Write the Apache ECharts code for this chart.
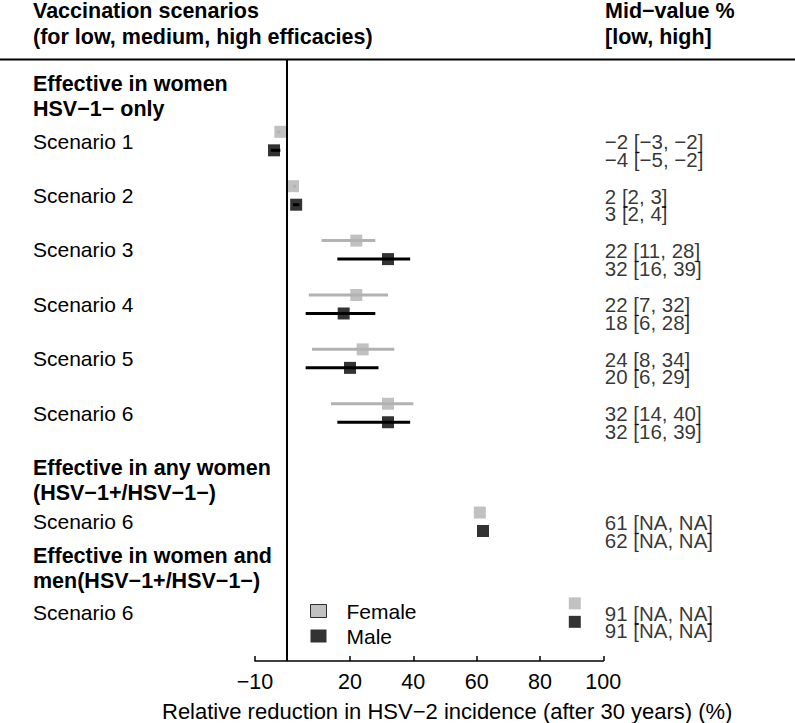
<!DOCTYPE html>
<html>
<head>
<meta charset="utf-8">
<script src="https://cdn.jsdelivr.net/npm/echarts@6/dist/echarts.min.js"></script>
<style>
  html, body { margin: 0; padding: 0; background: #fff; }
  #chart { width: 795px; height: 723px; }
</style>
</head>
<body>
<div id="chart"></div>
<script>
// ---------------- data ----------------
const scenarioLabels = ['Scenario 1', 'Scenario 2', 'Scenario 3', 'Scenario 4', 'Scenario 5', 'Scenario 6', 'Scenario 6', 'Scenario 6'];
const femaleMid  = [-2, 2, 22, 22, 24, 32, 61, 91];
const femaleLow  = [-3, 2, 11, 7, 8, 14, null, null];
const femaleHigh = [-2, 3, 28, 32, 34, 40, null, null];
const maleMid    = [-4, 3, 32, 18, 20, 32, 62, 91];
const maleLow    = [-5, 2, 16, 6, 6, 16, null, null];
const maleHigh   = [-2, 4, 39, 28, 29, 39, null, null];
const xTicks = [-10, 20, 40, 60, 80, 100];
const groupHeaders = [
  ['Effective in women', 'HSV\u22121\u2212 only'],
  ['Effective in any women', '(HSV\u22121+/HSV\u22121\u2212)'],
  ['Effective in women and', 'men(HSV\u22121+/HSV\u22121\u2212)']
];
const leftTitle = ['Vaccination scenarios', '(for low, medium, high efficacies)'];
const rightTitle = ['Mid\u2212value %', '[low, high]'];
const xTitle = 'Relative reduction in HSV\u22122 incidence (after 30 years) (%)';

// ---------------- layout ----------------
const rowPos = [0, 1, 2, 3, 4, 5, 7, 8.67];   // row slots on the hidden y axis
const sexOffset = 0.17;
const FONT = "'Liberation Sans', Arial, Helvetica, sans-serif";
const GRAY = '#b2b2b2';

const fmt = v => (v < 0 ? '\u2212' + Math.abs(v) : String(v));
const ciText = (m, lo, hi) => fmt(m) + ' [' + (lo == null ? 'NA' : fmt(lo)) + ', ' + (hi == null ? 'NA' : fmt(hi)) + ']';

function build(mid, lo, hi, off) {
  const pts = [], bars = [], txt = [];
  mid.forEach((m, i) => {
    const y = rowPos[i] + off;
    pts.push([m, y]);
    if (lo[i] != null && hi[i] != null) bars.push([lo[i], hi[i], y]);
    txt.push([100, y, ciText(m, lo[i], hi[i])]);
  });
  return { pts, bars, txt };
}
const F = build(femaleMid, femaleLow, femaleHigh, -sexOffset);
const M = build(maleMid, maleLow, maleHigh, sexOffset);

function whisker(color) {
  return function (params, api) {
    const a = api.coord([api.value(0), api.value(2)]);
    const b = api.coord([api.value(1), api.value(2)]);
    return {
      type: 'line',
      shape: { x1: a[0], y1: a[1], x2: b[0], y2: b[1] },
      style: { stroke: color, lineWidth: 3 }
    };
  };
}

const chart = echarts.init(document.getElementById('chart'), null, { renderer: 'svg' });

const BOLD = 'bold 21.5px ' + FONT;
const graphics = [];
leftTitle.forEach((t, i) => graphics.push({
  type: 'text', x: 33, y: 11 + i * 25.5,
  style: { text: t, font: BOLD, fill: '#000', textVerticalAlign: 'middle' }
}));
rightTitle.forEach((t, i) => graphics.push({
  type: 'text', x: 605, y: 11 + i * 25.5,
  style: { text: t, font: BOLD, fill: '#000', textVerticalAlign: 'middle' }
}));
const headerTops = [83.5, 467.5, 555.5];
groupHeaders.forEach((g, gi) => g.forEach((t, i) => graphics.push({
  type: 'text', x: 33, y: headerTops[gi] + i * 25.5,
  style: { text: t, font: BOLD, fill: '#000', textVerticalAlign: 'middle' }
})));
graphics.push({
  type: 'line', shape: { x1: 0, y1: 59.5, x2: 795, y2: 59.5 },
  style: { stroke: '#000', lineWidth: 2 }
});
graphics.push({
  type: 'text', x: 162, y: 711.5,
  style: { text: xTitle, font: '22px ' + FONT, fill: '#000', textAlign: 'left', textVerticalAlign: 'middle' }
});

chart.setOption({
  animation: false,
  backgroundColor: '#fff',
  textStyle: { fontFamily: FONT },
  grid: { left: 255, right: 191.7, top: 59.5, bottom: 62, containLabel: false, outerBoundsMode: 'none' },
  xAxis: {
    type: 'value', min: -10, max: 100,
    axisLine: { show: true, onZero: false, lineStyle: { color: '#000', width: 1.5 } },
    axisTick: { show: true, inside: true, length: 5, customValues: xTicks, lineStyle: { color: '#000', width: 1.5 } },
    axisLabel: { show: true, customValues: xTicks, formatter: v => fmt(v), color: '#000', fontSize: 21.5, fontFamily: FONT, margin: 10 },
    splitLine: { show: false }
  },
  yAxis: {
    type: 'value', inverse: true, min: -1.5, max: 9.56,
    axisLine: { show: false, onZero: false }, axisTick: { show: false }, splitLine: { show: false },
    axisLabel: {
      show: true, customValues: rowPos,
      formatter: v => { const i = rowPos.findIndex(p => Math.abs(p - v) < 1e-6); return i >= 0 ? scenarioLabels[i] : ''; },
      align: 'left', margin: 222, color: '#000', fontSize: 21, fontFamily: FONT
    }
  },
  legend: {
    orient: 'vertical', left: 305, top: 595.5,
    icon: 'rect', itemWidth: 16, itemHeight: 13, itemGap: 4,
    textStyle: { fontSize: 21, fontFamily: FONT, color: '#000', padding: [0, 0, 0, 15] },
    data: [
      { name: 'Female', itemStyle: { color: GRAY, borderColor: '#000', borderWidth: 1 } },
      { name: 'Male', itemStyle: { color: '#000' } }
    ]
  },
  graphic: graphics,
  series: [
    {
      type: 'line', data: [], silent: true,
      markLine: {
        silent: true, symbol: 'none', label: { show: false },
        lineStyle: { color: '#000', width: 2, type: 'solid' },
        data: [{ xAxis: 0 }]
      }
    },
    { type: 'custom', name: 'FemaleCI', data: F.bars, renderItem: whisker(GRAY), silent: true },
    { type: 'custom', name: 'MaleCI', data: M.bars, renderItem: whisker('#000'), silent: true },
    { type: 'scatter', name: 'Female', data: F.pts, symbol: 'rect', symbolSize: 12, itemStyle: { color: GRAY }, silent: true },
    { type: 'scatter', name: 'Male', data: M.pts, symbol: 'rect', symbolSize: 12, itemStyle: { color: '#000' }, silent: true },
    {
      type: 'scatter', name: 'FemaleText', data: F.txt, symbolSize: 1, itemStyle: { color: 'rgba(0,0,0,0)' }, silent: true, clip: false,
      label: { show: true, position: 'right', distance: 1, offset: [0, 10], formatter: p => p.data[2], color: '#000', fontSize: 20.5, lineHeight: 17, fontFamily: FONT }
    },
    {
      type: 'scatter', name: 'MaleText', data: M.txt, symbolSize: 1, itemStyle: { color: 'rgba(0,0,0,0)' }, silent: true, clip: false,
      label: { show: true, position: 'right', distance: 1, offset: [0, 9], formatter: p => p.data[2], color: '#000', fontSize: 20.5, lineHeight: 17, fontFamily: FONT }
    }
  ]
});
</script>
</body>
</html>
